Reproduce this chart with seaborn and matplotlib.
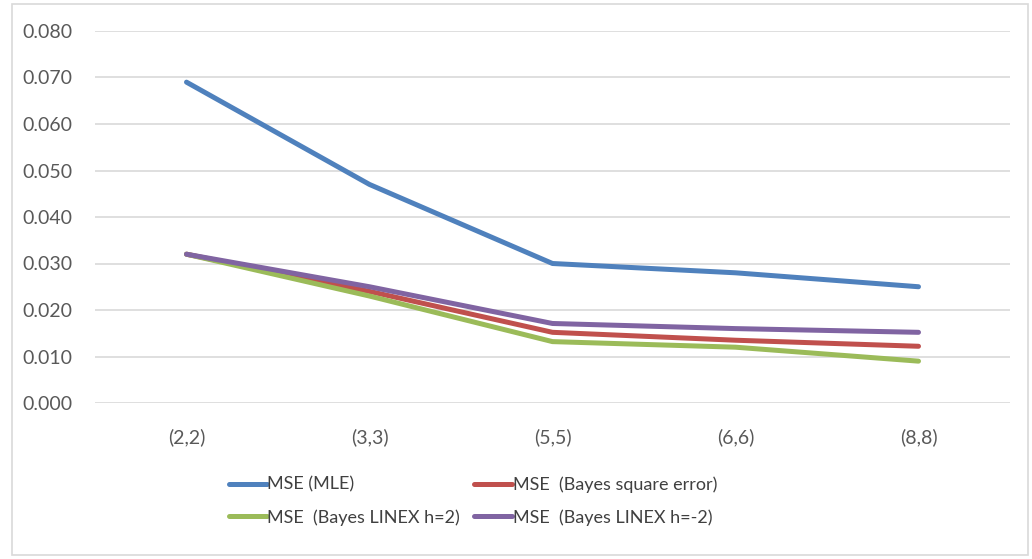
import matplotlib
matplotlib.use("Agg")
import matplotlib.pyplot as plt
import seaborn as sns
import pandas as pd
from matplotlib.patches import Rectangle

categories = ["(2,2)", "(3,3)", "(5,5)", "(6,6)", "(8,8)"]
mse_mle = [0.069, 0.047, 0.030, 0.028, 0.025]
mse_bayes_sq = [0.032, 0.024, 0.0152, 0.0135, 0.0122]
mse_linex_p2 = [0.032, 0.023, 0.0132, 0.0120, 0.0090]
mse_linex_m2 = [0.032, 0.025, 0.0171, 0.0160, 0.0152]

series_names = ["MSE (MLE)", "MSE  (Bayes square error)",
                "MSE  (Bayes LINEX h=2)", "MSE  (Bayes LINEX h=-2)"]
series_vals = [mse_mle, mse_bayes_sq, mse_linex_p2, mse_linex_m2]
colors = ["#4F81BD", "#C0504D", "#9BBB59", "#8064A2"]

rows = []
for name, vals in zip(series_names, series_vals):
    for c, v in zip(categories, vals):
        rows.append({"cat": c, "val": v, "series": name})
df = pd.DataFrame(rows)

sns.set_theme(style="white")
plt.rcParams["font.family"] = ["Lato", "DejaVu Sans"]

fig = plt.figure(figsize=(10.32, 5.59), dpi=100)
ax = fig.add_axes([95/1032, 1-403/559, (1010-95)/1032, (403-31)/559])

sns.lineplot(data=df, x="cat", y="val", hue="series", hue_order=series_names,
             palette=colors, linewidth=3.6, sort=False, ax=ax, legend=True,
             solid_capstyle="round")

ax.set_xlim(-0.5, 4.5)
ax.set_ylim(0, 0.080)
ax.set_yticks([i * 0.01 for i in range(9)])
ax.set_yticklabels([f"{i*0.01:.3f}" for i in range(9)])
ax.yaxis.grid(True, color="#D9D9D9", linewidth=1.2)
ax.set_axisbelow(True)
for s in ax.spines.values():
    s.set_visible(False)
ax.set_xlabel("")
ax.set_ylabel("")
ax.tick_params(axis="both", colors="#595959", labelsize=14, length=0)
ax.tick_params(axis="y", pad=16)
ax.tick_params(axis="x", pad=18)

handles, labels = ax.get_legend_handles_labels()
ax.get_legend().remove()
for h in handles:
    h.set_solid_capstyle("round")
order = [0, 2, 1, 3]
fig.legend([handles[i] for i in order], [labels[i] for i in order],
           ncol=2, loc="center left", bbox_to_anchor=(216/1032, 1-501/559),
           frameon=False, fontsize=13, handlelength=2.1, handletextpad=0.05,
           columnspacing=0.75, labelspacing=0.9, labelcolor="#404040",
           borderpad=0.2)

fig.patches.append(Rectangle((12/1032, 4/559), 1016/1032, 551/559,
                             transform=fig.transFigure, fill=False,
                             edgecolor="#D9D9D9", linewidth=1.2))

fig.savefig("out.png", dpi=100)
